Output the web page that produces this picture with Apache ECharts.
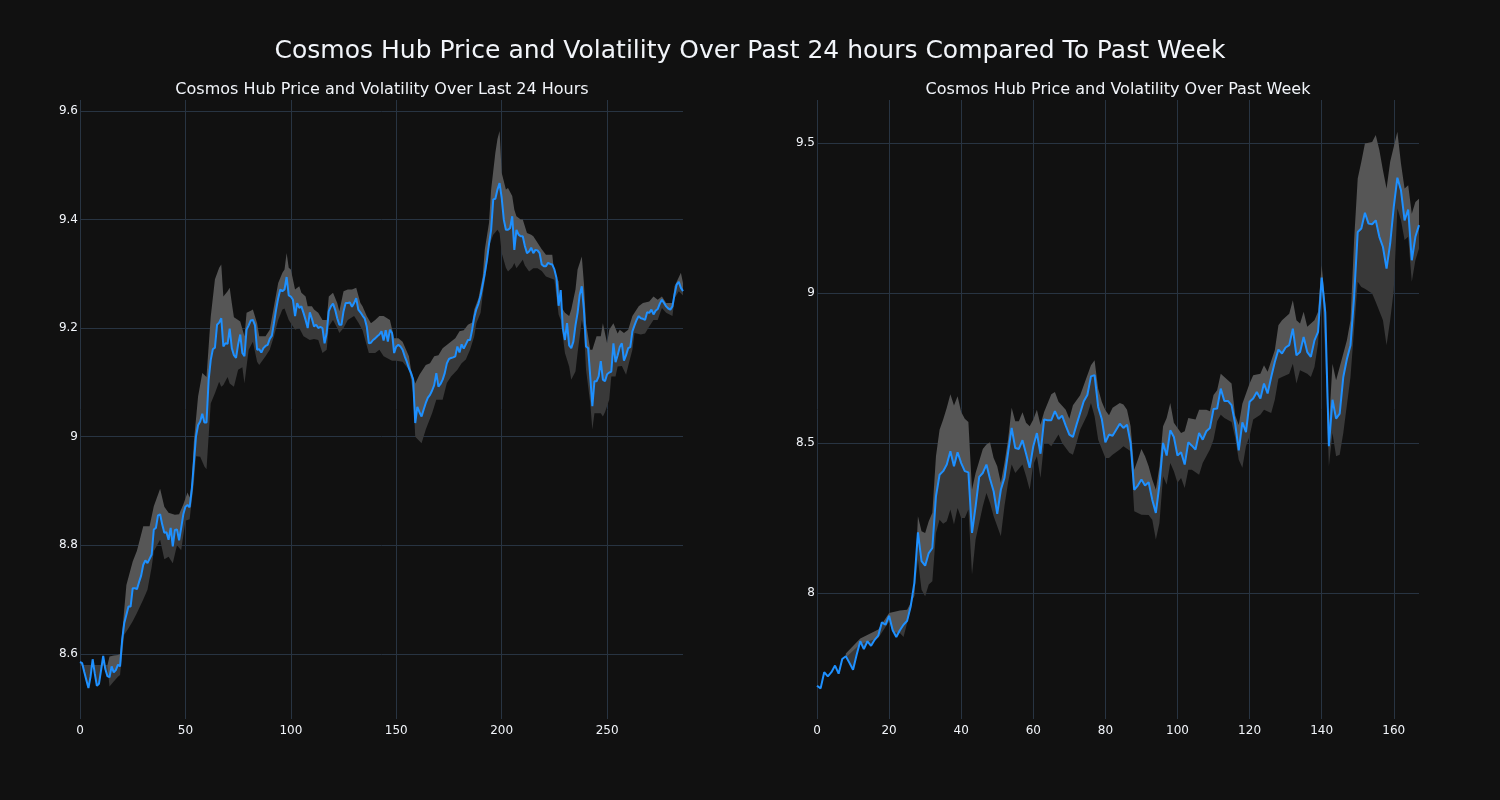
<!DOCTYPE html>
<html>
<head>
<meta charset="utf-8">
<script src="https://cdn.jsdelivr.net/npm/echarts@6/dist/echarts.min.js"></script>
<style>
html,body{margin:0;padding:0;background:#111111;}
#chart{width:1500px;height:800px;}
</style>
</head>
<body>
<div id="chart"></div>
<script>
// ---- Left panel: last 24 hours (index 0..286) ----
const dayPrice = [
8.585,8.583,8.567,8.552,8.537,8.558,8.590,8.564,8.541,8.545,
8.570,8.596,8.572,8.559,8.557,8.577,8.566,8.570,8.580,8.577,
8.626,8.657,8.672,8.687,8.687,8.721,8.721,8.719,8.732,8.744,
8.764,8.772,8.767,8.775,8.783,8.829,8.832,8.855,8.857,8.838,
8.823,8.824,8.810,8.832,8.798,8.828,8.829,8.809,8.832,8.857,
8.871,8.874,8.870,8.902,8.951,9.000,9.021,9.028,9.042,9.026,
9.026,9.104,9.141,9.161,9.164,9.206,9.210,9.218,9.166,9.172,
9.171,9.199,9.163,9.150,9.145,9.170,9.188,9.154,9.148,9.197,
9.205,9.214,9.215,9.205,9.160,9.161,9.155,9.163,9.167,9.169,
9.180,9.186,9.209,9.234,9.255,9.271,9.268,9.271,9.294,9.260,
9.258,9.252,9.222,9.246,9.237,9.240,9.228,9.215,9.200,9.229,
9.217,9.203,9.206,9.200,9.202,9.200,9.172,9.191,9.231,9.240,
9.245,9.234,9.218,9.206,9.206,9.231,9.246,9.246,9.247,9.239,
9.246,9.255,9.234,9.229,9.223,9.218,9.203,9.172,9.173,9.178,
9.181,9.185,9.188,9.194,9.177,9.196,9.175,9.197,9.191,9.154,
9.166,9.169,9.166,9.160,9.148,9.138,9.126,9.117,9.105,9.025,
9.055,9.045,9.037,9.050,9.062,9.072,9.077,9.085,9.095,9.117,
9.092,9.097,9.105,9.117,9.135,9.143,9.145,9.146,9.148,9.166,
9.155,9.170,9.162,9.170,9.178,9.178,9.197,9.220,9.235,9.245,
9.260,9.280,9.301,9.325,9.355,9.381,9.437,9.438,9.455,9.467,
9.440,9.400,9.381,9.381,9.384,9.406,9.344,9.381,9.372,9.369,
9.369,9.351,9.338,9.341,9.348,9.338,9.344,9.343,9.338,9.317,
9.314,9.314,9.320,9.318,9.317,9.308,9.292,9.241,9.270,9.200,
9.178,9.209,9.168,9.163,9.175,9.205,9.228,9.261,9.277,9.234,
9.166,9.163,9.111,9.056,9.102,9.102,9.111,9.139,9.105,9.102,
9.115,9.118,9.120,9.172,9.137,9.150,9.165,9.172,9.140,9.150,
9.163,9.165,9.194,9.205,9.215,9.222,9.218,9.217,9.215,9.229,
9.228,9.234,9.225,9.232,9.235,9.245,9.252,9.246,9.240,9.236,
9.234,9.240,9.262,9.280,9.285,9.274,9.268
];
const dayUpper = [
[0,8.579],[13,8.579],[14,8.595],[16,8.597],[18,8.598],[19,8.600],[20,8.638],[22,8.727],[25,8.770],[27,8.790],
[30,8.835],[33,8.835],[35,8.872],[38,8.904],[40,8.871],[42,8.860],[45,8.856],[47,8.857],[49,8.875],[51,8.897],
[52,8.888],[53,8.915],[54,8.990],[56,9.074],[58,9.117],[60,9.110],[62,9.221],[64,9.290],[66,9.311],[67,9.317],
[68,9.258],[70,9.268],[71,9.274],[72,9.246],[73,9.220],[75,9.215],[76,9.212],[78,9.185],[79,9.228],[81,9.232],
[82,9.234],[84,9.209],[85,9.185],[88,9.185],[90,9.197],[92,9.240],[94,9.283],[96,9.302],[97,9.308],[98,9.338],
[99,9.311],[100,9.308],[102,9.271],[104,9.277],[105,9.265],[107,9.258],[108,9.240],[110,9.240],[111,9.234],[113,9.228],
[115,9.215],[117,9.215],[118,9.258],[120,9.265],[122,9.246],[123,9.231],[125,9.268],[127,9.271],[129,9.271],[131,9.274],
[133,9.246],[134,9.240],[136,9.222],[138,9.209],[140,9.215],[142,9.222],[144,9.222],[147,9.215],[149,9.181],[151,9.181],
[153,9.175],[156,9.148],[157,9.123],[159,9.098],[161,9.114],[164,9.132],[166,9.135],[168,9.148],[170,9.150],[172,9.163],
[175,9.172],[178,9.181],[180,9.194],[182,9.196],[184,9.206],[186,9.210],[187,9.234],[189,9.255],[191,9.295],[192,9.345],
[194,9.394],[195,9.455],[197,9.523],[198,9.548],[199,9.563],[200,9.486],[202,9.455],[203,9.458],[205,9.443],[206,9.418],
[207,9.406],[209,9.400],[210,9.400],[212,9.375],[214,9.372],[215,9.369],[217,9.357],[219,9.345],[221,9.335],[224,9.335],
[225,9.298],[227,9.286],[228,9.240],[230,9.228],[232,9.222],[233,9.234],[235,9.271],[236,9.308],[238,9.332],[239,9.283],
[240,9.209],[242,9.160],[243,9.160],[245,9.185],[247,9.185],[248,9.209],[250,9.172],[251,9.197],[253,9.209],[255,9.190],
[256,9.197],[258,9.191],[260,9.197],[262,9.222],[265,9.240],[267,9.246],[270,9.249],[272,9.258],[274,9.252],[276,9.258],
[278,9.246],[281,9.246],[282,9.277],[285,9.302],[286,9.283]
];
const dayLower = [
[0,8.579],[13,8.579],[14,8.540],[16,8.549],[18,8.558],[19,8.561],[20,8.600],[21,8.635],[23,8.647],[25,8.660],
[27,8.675],[30,8.700],[32,8.718],[34,8.760],[35,8.789],[38,8.810],[40,8.774],[42,8.779],[44,8.767],[46,8.800],
[48,8.791],[50,8.845],[52,8.848],[54,8.914],[55,8.964],[57,8.963],[59,8.945],[60,8.940],[61,9.000],[62,9.061],
[64,9.080],[66,9.101],[67,9.092],[68,9.095],[70,9.110],[71,9.098],[73,9.092],[75,9.123],[77,9.128],[78,9.098],
[80,9.160],[82,9.175],[84,9.138],[85,9.132],[88,9.148],[90,9.160],[92,9.185],[94,9.215],[96,9.234],[97,9.236],
[99,9.215],[100,9.209],[102,9.197],[104,9.200],[106,9.185],[109,9.178],[111,9.180],[113,9.178],[115,9.154],[117,9.160],
[118,9.203],[120,9.215],[122,9.200],[123,9.191],[125,9.200],[127,9.215],[130,9.222],[132,9.210],[134,9.196],[137,9.154],
[140,9.154],[142,9.160],[144,9.148],[148,9.140],[150,9.140],[153,9.138],[156,9.123],[157,9.105],[158,9.080],[159,9.000],
[162,8.988],[164,9.013],[167,9.043],[169,9.068],[172,9.068],[174,9.099],[176,9.111],[179,9.123],[181,9.135],[183,9.142],
[185,9.160],[187,9.185],[188,9.209],[190,9.228],[191,9.261],[193,9.314],[194,9.351],[196,9.372],[198,9.381],[199,9.375],
[200,9.338],[202,9.311],[203,9.304],[205,9.312],[206,9.320],[207,9.310],[208,9.315],[210,9.326],[211,9.315],[213,9.304],
[215,9.310],[217,9.310],[219,9.305],[221,9.295],[225,9.289],[227,9.225],[228,9.215],[230,9.154],[232,9.129],[233,9.105],
[235,9.120],[236,9.154],[238,9.215],[239,9.197],[240,9.123],[242,9.062],[243,9.013],[244,9.043],[247,9.043],[248,9.037],
[249,9.045],[251,9.068],[252,9.111],[254,9.111],[255,9.129],[257,9.130],[259,9.114],[260,9.130],[262,9.160],[263,9.191],
[266,9.188],[268,9.190],[270,9.203],[272,9.215],[274,9.215],[276,9.237],[278,9.228],[281,9.222],[282,9.255],[284,9.268],
[286,9.260]
];

// ---- Right panel: past week (index 0..167) ----
const weekPrice = [
7.691,7.682,7.736,7.722,7.736,7.758,7.731,7.780,7.789,7.767,
7.744,7.794,7.839,7.813,7.839,7.824,7.844,7.858,7.902,7.894,
7.924,7.876,7.853,7.876,7.894,7.907,7.956,8.033,8.202,8.106,
8.091,8.133,8.150,8.322,8.394,8.406,8.428,8.472,8.422,8.469,
8.433,8.406,8.402,8.200,8.289,8.387,8.400,8.428,8.380,8.339,
8.264,8.344,8.383,8.467,8.550,8.483,8.480,8.509,8.464,8.417,
8.489,8.533,8.464,8.578,8.576,8.576,8.606,8.580,8.591,8.558,
8.528,8.520,8.561,8.600,8.639,8.660,8.722,8.726,8.620,8.580,
8.502,8.528,8.524,8.544,8.564,8.550,8.561,8.500,8.344,8.358,
8.378,8.358,8.369,8.311,8.267,8.361,8.500,8.458,8.542,8.520,
8.458,8.469,8.428,8.502,8.491,8.478,8.533,8.511,8.539,8.550,
8.613,8.615,8.681,8.640,8.640,8.626,8.564,8.475,8.569,8.536,
8.637,8.648,8.670,8.648,8.698,8.665,8.720,8.770,8.811,8.798,
8.818,8.826,8.881,8.792,8.803,8.853,8.803,8.787,8.842,8.870,
9.051,8.935,8.489,8.644,8.581,8.598,8.720,8.780,8.826,8.987,
9.203,9.215,9.267,9.231,9.229,9.242,9.187,9.153,9.081,9.164,
9.287,9.384,9.342,9.242,9.278,9.109,9.187,9.226
];
const weekUpper = [
[8,7.798],[12,7.848],[17,7.878],[20,7.933],[23,7.942],[25,7.944],[27,7.990],[28,8.256],[29,8.206],[30,8.200],
[31,8.239],[32,8.267],[33,8.456],[34,8.544],[35,8.578],[36,8.617],[37,8.662],[38,8.625],[39,8.656],[40,8.603],
[41,8.581],[42,8.570],[43,8.344],[44,8.400],[46,8.480],[47,8.495],[48,8.502],[49,8.450],[50,8.422],[51,8.367],
[52,8.433],[53,8.511],[54,8.617],[55,8.572],[56,8.572],[57,8.602],[58,8.567],[59,8.556],[60,8.578],[61,8.611],
[62,8.561],[63,8.603],[65,8.662],[66,8.670],[67,8.637],[69,8.611],[70,8.581],[71,8.626],[73,8.659],[74,8.692],
[76,8.759],[77,8.776],[78,8.681],[79,8.637],[80,8.609],[81,8.592],[82,8.617],[84,8.633],[85,8.628],[86,8.611],
[87,8.556],[88,8.411],[89,8.444],[90,8.480],[91,8.456],[92,8.422],[93,8.378],[94,8.344],[95,8.422],[96,8.556],
[97,8.583],[98,8.633],[99,8.567],[101,8.533],[102,8.539],[103,8.583],[105,8.578],[106,8.611],[108,8.611],[109,8.606],
[110,8.660],[111,8.676],[112,8.731],[114,8.709],[115,8.698],[116,8.592],[117,8.560],[118,8.631],[120,8.698],[121,8.726],
[123,8.731],[124,8.759],[125,8.737],[127,8.809],[128,8.892],[129,8.909],[131,8.931],[132,8.976],[133,8.909],[134,8.898],
[135,8.937],[136,8.887],[138,8.909],[139,8.937],[140,9.092],[141,8.964],[142,8.556],[143,8.764],[144,8.709],[145,8.753],
[147,8.842],[148,8.909],[149,9.176],[150,9.381],[151,9.437],[152,9.498],[154,9.503],[155,9.526],[156,9.476],[157,9.409],
[158,9.348],[159,9.437],[160,9.487],[161,9.537],[162,9.431],[163,9.348],[164,9.359],[165,9.264],[166,9.303],[167,9.314]
];
const weekLower = [
[8,7.785],[12,7.830],[17,7.850],[20,7.905],[21,7.870],[23,7.867],[24,7.853],[25,7.900],[27,8.000],[28,8.111],
[29,8.011],[30,7.989],[31,8.028],[32,8.039],[33,8.200],[34,8.244],[35,8.231],[36,8.239],[37,8.278],[38,8.228],
[39,8.283],[40,8.250],[41,8.250],[42,8.278],[43,8.061],[44,8.178],[46,8.289],[47,8.333],[48,8.300],[49,8.256],
[51,8.189],[52,8.289],[53,8.367],[54,8.428],[55,8.400],[57,8.428],[58,8.389],[59,8.344],[60,8.428],[61,8.456],
[62,8.383],[63,8.500],[64,8.500],[65,8.489],[67,8.528],[68,8.500],[70,8.467],[71,8.461],[72,8.500],[73,8.544],
[75,8.594],[76,8.633],[77,8.589],[78,8.511],[80,8.450],[81,8.450],[82,8.461],[84,8.478],[85,8.489],[87,8.472],
[88,8.272],[90,8.261],[92,8.260],[93,8.244],[94,8.178],[95,8.233],[96,8.389],[97,8.361],[98,8.433],[99,8.406],
[100,8.367],[101,8.383],[102,8.350],[103,8.411],[104,8.411],[106,8.394],[107,8.433],[109,8.478],[110,8.511],[111,8.572],
[112,8.594],[113,8.583],[115,8.570],[116,8.517],[117,8.444],[118,8.417],[119,8.489],[120,8.522],[121,8.578],[123,8.594],
[124,8.611],[126,8.600],[127,8.644],[128,8.714],[129,8.720],[131,8.731],[132,8.764],[133,8.698],[134,8.742],[136,8.731],
[137,8.720],[138,8.753],[139,8.831],[140,9.031],[141,8.787],[142,8.422],[143,8.533],[144,8.456],[145,8.461],[146,8.533],
[148,8.720],[149,8.880],[150,9.037],[151,9.020],[152,9.014],[154,8.998],[155,8.970],[157,8.909],[158,8.826],[159,8.909],
[160,9.009],[161,9.281],[162,9.242],[163,9.176],[164,9.187],[165,9.037],[166,9.109],[167,9.148]
];

const mainTitle = 'Cosmos Hub Price and Volatility Over Past 24 hours Compared To Past Week';
const leftTitle = 'Cosmos Hub Price and Volatility Over Last 24 Hours';
const rightTitle = 'Cosmos Hub Price and Volatility Over Past Week';

const GRID = '#283442';
const NONE = 'rgba(0,0,0,0)';
const TXT = '#f2f5fa';
const FONT = 'DejaVu Sans';

function bandPolygon(gridIdx, price, edge, color, z) {
  return {
    type: 'custom', xAxisIndex: gridIdx, yAxisIndex: gridIdx, z: z, silent: true,
    data: [[edge[0][0], edge[0][1]]],
    clip: true,
    renderItem: function (params, api) {
      const lo = edge[0][0], hi = edge[edge.length - 1][0];
      const pts = [];
      price.forEach(function (v, i) { if (i >= lo && i <= hi) pts.push(api.coord([i, v])); });
      for (let k = edge.length - 1; k >= 0; k--) pts.push(api.coord(edge[k]));
      return { type: 'polygon', shape: { points: pts }, style: { fill: color } };
    }
  };
}
function lineSeries(gridIdx, price) {
  return {
    type: 'line', xAxisIndex: gridIdx, yAxisIndex: gridIdx, z: 5, silent: true,
    data: price.map(function (v, i) { return [i, v]; }),
    showSymbol: false, symbol: 'none',
    lineStyle: { color: '#1e90ff', width: 2 }
  };
}
// split-line colour lists: the edge (extent) lines are made invisible
function edgeColors(nLines, hideFirst) {
  const c = [];
  for (let k = 0; k < nLines; k++) c.push(GRID);
  if (hideFirst) c[0] = NONE;
  c[nLines - 1] = NONE;
  return c;
}
function xAx(gridIdx, max, interval, nLines) {
  return {
    type: 'value', gridIndex: gridIdx, min: 0, max: max, interval: interval,
    axisLine: { show: false }, axisTick: { show: false },
    axisLabel: { color: TXT, fontFamily: FONT, fontSize: 12, margin: 6, showMaxLabel: false },
    splitLine: { show: true, lineStyle: { color: edgeColors(nLines, false), width: 1 } }
  };
}
function yAx(gridIdx, min, max, splitNumber, nLines) {
  return {
    type: 'value', gridIndex: gridIdx, min: min, max: max, splitNumber: splitNumber,
    axisLine: { show: false }, axisTick: { show: false },
    axisLabel: { color: TXT, fontFamily: FONT, fontSize: 12, margin: 2, showMinLabel: false, showMaxLabel: false },
    splitLine: { show: true, lineStyle: { color: edgeColors(nLines, true), width: 1 } }
  };
}

const chart = echarts.init(document.getElementById('chart'), null, { renderer: 'canvas' });
chart.setOption({
  backgroundColor: '#111111',
  animation: false,
  title: [
    { text: mainTitle, left: 'center', top: 34, textStyle: { color: TXT, fontFamily: FONT, fontSize: 25, fontWeight: 'normal' } },
    { text: leftTitle, left: 377, textAlign: 'center', top: 77, textStyle: { color: TXT, fontFamily: FONT, fontSize: 16, fontWeight: 'normal' } },
    { text: rightTitle, left: 1113, textAlign: 'center', top: 77, textStyle: { color: TXT, fontFamily: FONT, fontSize: 16, fontWeight: 'normal' } }
  ],
  grid: [
    { left: 80, top: 100, width: 603, height: 619 },
    { left: 817, top: 100, width: 602, height: 619 }
  ],
  xAxis: [xAx(0, 286, 50, 7), xAx(1, 167, 20, 10)],
  yAxis: [yAx(0, 8.48, 9.62, 5, 8), yAx(1, 7.58, 9.643, 4, 6)],
  series: [
    bandPolygon(0, dayPrice, dayUpper, '#565656', 1),
    bandPolygon(0, dayPrice, dayLower, '#393939', 2),
    lineSeries(0, dayPrice),
    bandPolygon(1, weekPrice, weekUpper, '#565656', 1),
    bandPolygon(1, weekPrice, weekLower, '#393939', 2),
    lineSeries(1, weekPrice)
  ]
});
</script>
</body>
</html>
